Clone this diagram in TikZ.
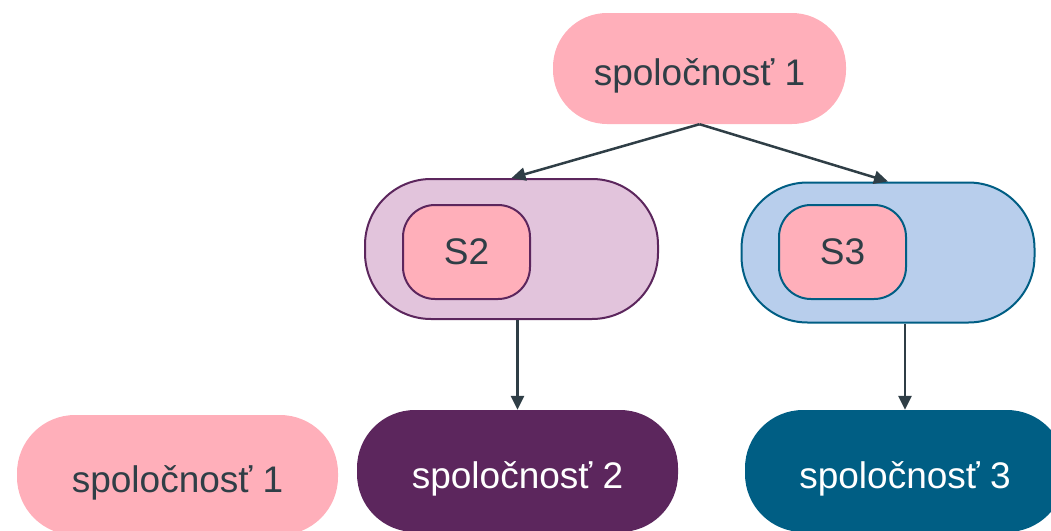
\documentclass[tikz,border=0pt]{standalone}
\usepackage{fontspec}
\setmainfont{Liberation Sans}
\usetikzlibrary{arrows.meta}
\definecolor{corpink}{RGB}{255,175,186}
\definecolor{corink}{RGB}{47,62,70}
\definecolor{corplum}{RGB}{92,38,93}
\definecolor{corlilac}{RGB}{226,196,220}
\definecolor{corteal}{RGB}{0,94,132}
\definecolor{corsky}{RGB}{184,206,236}
\begin{document}
\begin{tikzpicture}[x=1pt, y=-1pt,
  firm/.style={rectangle, rounded corners=54pt, inner sep=0pt, minimum width=293pt, minimum height=111pt, text height=34pt, text depth=0pt, font=\fontsize{37}{44}\selectfont},
  holder/.style={rectangle, rounded corners=66pt, line width=2pt, inner sep=0pt, minimum width=293pt, minimum height=140pt},
  part/.style={rectangle, rounded corners=32pt, line width=2pt, fill=corpink, text=corink, inner sep=0pt, minimum width=127pt, minimum height=94pt, font=\fontsize{37}{44}\selectfont},
  link/.style={draw=corink, line width=2.5pt, -{Triangle[length=14pt,width=13pt]}}]
\useasboundingbox (0,0) rectangle (1051,530);
\node[firm, fill=corpink, text=corink] (co1) at (699.5,68.5){spoločnosť 1};
\node[holder, draw=corplum, fill=corlilac] (s2box) at (511.5,249){};
\node[part, draw=corplum] (s2) at (466.5,252){S2};
\node[holder, draw=corteal, fill=corsky] (s3box) at (888,252.5){};
\node[part, draw=corteal] (s3) at (842.5,252){S3};
\node[firm, fill=corpink, text=corink, minimum width=321pt, minimum height=120pt, rounded corners=58pt] (co1b) at (177.5,475){spoločnosť 1};
\node[firm, fill=corplum, text=white, minimum width=321pt, minimum height=122pt, rounded corners=58pt] (co2) at (517.5,471){spoločnosť 2};
\node[firm, fill=corteal, text=white, minimum width=320pt, minimum height=122pt, rounded corners=58pt] (co3) at (905,471){spoločnosť 3};
\draw[link](co1.south) -- (s2box.north);
\draw[link](co1.south) -- (s3box.north);
\draw[link](s2box.south -| co2.north) -- (co2.north);
\draw[link](s3box.south -| co3.north) -- (co3.north);
\end{tikzpicture}
\end{document}
